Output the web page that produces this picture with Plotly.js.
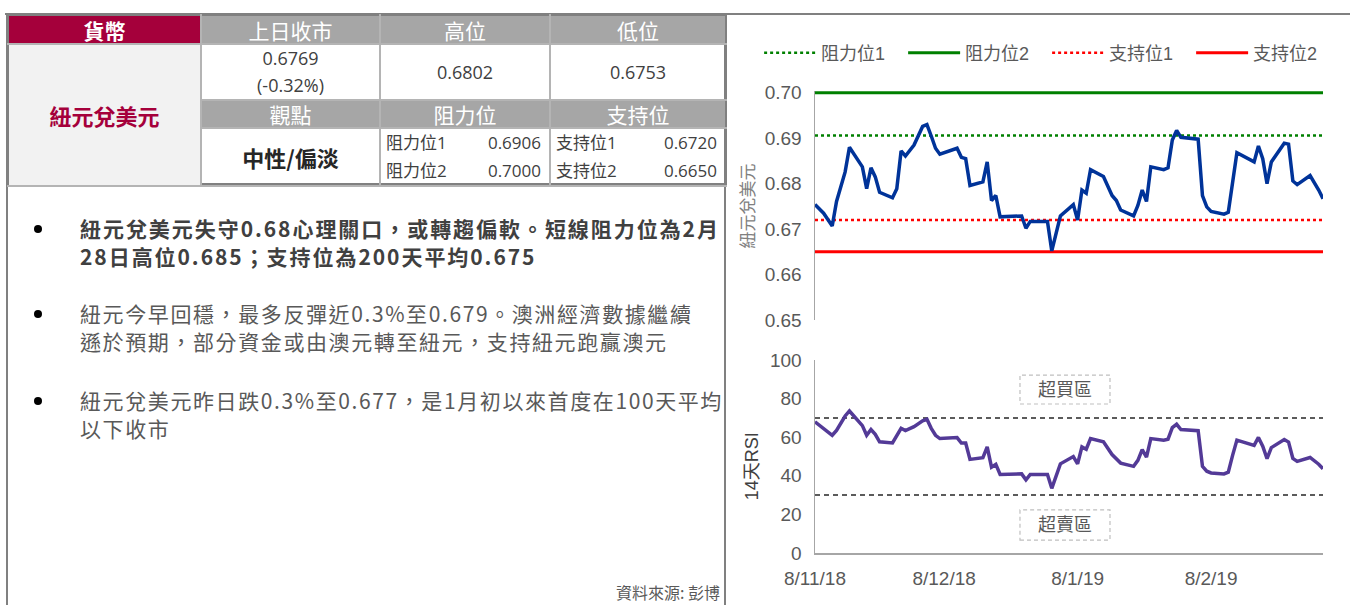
<!DOCTYPE html>
<html>
<head>
<meta charset="utf-8">
<script src="https://cdn.plot.ly/plotly-3.0.1.min.js"></script>
<style>
  html, body { margin:0; padding:0; background:#fff; }
  body { width:1350px; height:605px; position:relative; overflow:hidden; font-family:"Open Sans","Noto Sans CJK TC",sans-serif; }
  .hl { position:absolute; background:#808080; }
  table.info { position:absolute; left:7px; top:14px; width:718px; border-collapse:collapse; table-layout:fixed; }
  table.info td { border:2px solid #b4b4b4; padding:0; text-align:center; vertical-align:middle; color:#404040; font-size:18px; line-height:27px; white-space:nowrap; }
  table.info tr:first-child td { border-top:2px solid #808080; }
  table.info td.first { border-left:2px solid #808080; }
  table.info td.last { border-right:2px solid #808080; }
  td.hdr { background:#a6a6a6; color:#fff !important; font-size:21px !important; line-height:26px !important; font-family:"Noto Sans CJK TC",sans-serif; }
  td.hdr1 { background:#a5003b; color:#fff !important; font-size:21px !important; line-height:26px !important; font-weight:bold; font-family:"Noto Sans CJK TC",sans-serif; }
  td.name { background:#f2f2f2; color:#a5003b !important; font-size:22px !important; font-weight:bold; font-family:"Noto Sans CJK TC",sans-serif; }
  td.view { font-size:22px !important; font-weight:bold; color:#262626 !important; font-family:"Noto Sans CJK TC",sans-serif; }
  .pair { display:flex; justify-content:space-between; padding:0 8px 0 5px; line-height:28px; font-size:17px; }
  .bul { position:absolute; left:0; width:720px; }
  .bul .dot { position:absolute; left:34px; top:11px; width:8px; height:8px; border-radius:50%; background:#000; }
  .bul .txt { position:absolute; left:80px; width:660px; font-size:21px; letter-spacing:1.6px; line-height:28px; color:#595959; font-family:"Noto Sans CJK TC",sans-serif; white-space:nowrap; }
  .bul .txt.b { font-weight:bold; color:#404040; letter-spacing:1.95px; }
  #src { position:absolute; left:540px; width:180px; top:582px; line-height:20px; text-align:right; font-size:16px; color:#595959; font-family:"Noto Sans CJK TC",sans-serif; }
  #chart { position:absolute; left:727px; top:0; width:623px; height:605px; }
</style>
</head>
<body>
<div class="hl" style="left:5px; top:13px; width:1345px; height:2px;"></div>
<div class="hl" style="left:6px; top:14px; width:2px; height:591px;"></div>
<div class="hl" style="left:724px; top:14px; width:2px; height:591px;"></div>
<div class="hl" style="left:6px; top:183px; width:720px; height:2px;"></div>

<table class="info" id="tbl"></table>

<div id="bullets"></div>
<div id="src"></div>
<div id="chart"></div>

<script>
// ---- table / text content ----
var tableHeaders1 = ["貨幣", "上日收市", "高位", "低位"];
var currencyName = "紐元兌美元";
var prevClose = "0.6769";
var prevChange = "(-0.32%)";
var dayHigh = "0.6802";
var dayLow = "0.6753";
var tableHeaders2 = ["觀點", "阻力位", "支持位"];
var viewText = "中性/偏淡";
var resistLabels = ["阻力位1", "阻力位2"];
var resistValues = ["0.6906", "0.7000"];
var supportLabels = ["支持位1", "支持位2"];
var supportValues = ["0.6720", "0.6650"];
var bulletLines = [
  ["紐元兌美元失守0.68心理關口，或轉趨偏軟。短線阻力位為2月", "28日高位0.685；支持位為200天平均0.675"],
  ["紐元今早回穩，最多反彈近0.3%至0.679。澳洲經濟數據繼續", "遜於預期，部分資金或由澳元轉至紐元，支持紐元跑贏澳元"],
  ["紐元兌美元昨日跌0.3%至0.677，是1月初以來首度在100天平均", "以下收市"]
];
var bulletBold = [true, false, false];
var sourceText = "資料來源: 彭博";

// ---- chart data ----
var dates = ['2018-11-08','2018-11-10','2018-11-12','2018-11-13','2018-11-15','2018-11-16','2018-11-19','2018-11-20','2018-11-21','2018-11-22',
  '2018-11-23','2018-11-26','2018-11-27','2018-11-28','2018-11-29','2018-12-01','2018-12-03','2018-12-04','2018-12-05','2018-12-06',
  '2018-12-07','2018-12-11','2018-12-12','2018-12-13','2018-12-14','2018-12-17','2018-12-18','2018-12-19','2018-12-20','2018-12-21',
  '2018-12-26','2018-12-27','2018-12-28','2019-01-01','2019-01-02','2019-01-04','2019-01-07','2019-01-08','2019-01-09','2019-01-10',
  '2019-01-11','2019-01-14','2019-01-16','2019-01-17','2019-01-18','2019-01-21','2019-01-22','2019-01-23','2019-01-24','2019-01-25',
  '2019-01-28','2019-01-29','2019-01-30','2019-01-31','2019-02-01','2019-02-05','2019-02-06','2019-02-07','2019-02-08','2019-02-11',
  '2019-02-12','2019-02-13','2019-02-14','2019-02-18','2019-02-19','2019-02-20','2019-02-21','2019-02-22','2019-02-25','2019-02-26',
  '2019-02-27','2019-02-28','2019-03-03','2019-03-05','2019-03-06'];
var nzdusd = [0.6754,0.6735,0.6707,0.6761,0.6826,0.6880,0.6837,0.6789,0.6835,0.6815,
  0.6781,0.6769,0.6789,0.6872,0.6861,0.6885,0.6926,0.6930,0.6905,0.6878,
  0.6865,0.6878,0.6858,0.6855,0.6796,0.6804,0.6848,0.6763,0.6774,0.6727,
  0.6729,0.6702,0.6717,0.6717,0.6652,0.6729,0.6754,0.6720,0.6786,0.6779,
  0.6831,0.6816,0.6774,0.6763,0.6742,0.6729,0.6752,0.6786,0.6761,0.6837,
  0.6831,0.6835,0.6896,0.6917,0.6902,0.6898,0.6774,0.6749,0.6739,0.6733,
  0.6737,0.6804,0.6868,0.6848,0.6883,0.6855,0.6800,0.6848,0.6889,0.6887,
  0.6806,0.6798,0.6818,0.6786,0.6767];
var rsi14 = [68,64.6,61,63.5,71,73.6,66,61,64,61.5,
  57.6,57,60.5,64.6,63.4,65.5,68.5,69.3,64.6,61,
  59.3,59.8,57,57,48.5,49.4,55,44.5,45.9,40.7,
  41,37.9,40.7,40.7,33.5,46.2,50,46.2,55,53.8,
  59.3,57.6,51,48.9,46.6,44.9,48,53.6,49.7,59.3,
  58.5,59,65,66.7,64,63.4,44.9,42.4,41.5,41,
  41.9,50.6,58.5,55.8,59.9,55.3,48.9,54.6,58.8,57.5,
  49,47.5,49.5,46,43.6];
var levelNames = ["阻力位1", "阻力位2", "支持位1", "支持位2"];
var levelValues = [0.6906, 0.7000, 0.6720, 0.6650];
var rsiBands = [70, 30];
var rsiBandLabels = ["超買區", "超賣區"];
var xTickVals = ['2018-11-08','2018-12-08','2019-01-08','2019-02-08'];
var xTickText = ['8/11/18','8/12/18','8/1/19','8/2/19'];

// ---- build table ----
(function(){
  var h = '<colgroup><col style="width:193px"><col style="width:179px"><col style="width:170px"><col style="width:176px"></colgroup>';
  h += '<tr style="height:29px"><td class="hdr1 first">'+tableHeaders1[0]+'</td><td class="hdr">'+tableHeaders1[1]+'</td><td class="hdr">'+tableHeaders1[2]+'</td><td class="hdr last">'+tableHeaders1[3]+'</td></tr>';
  h += '<tr style="height:56px"><td class="name first" rowspan="3">'+currencyName+'</td><td>'+prevClose+'<br>'+prevChange+'</td><td>'+dayHigh+'</td><td class="last">'+dayLow+'</td></tr>';
  h += '<tr style="height:28px"><td class="hdr">'+tableHeaders2[0]+'</td><td class="hdr">'+tableHeaders2[1]+'</td><td class="hdr last">'+tableHeaders2[2]+'</td></tr>';
  var r = '', s = '';
  for (var i=0;i<2;i++){
    r += '<div class="pair"><span>'+resistLabels[i]+'</span><span>'+resistValues[i]+'</span></div>';
    s += '<div class="pair"><span>'+supportLabels[i]+'</span><span>'+supportValues[i]+'</span></div>';
  }
  h += '<tr style="height:57px"><td class="view">'+viewText+'</td><td>'+r+'</td><td class="last">'+s+'</td></tr>';
  document.getElementById('tbl').innerHTML = h;
  var tops = [214, 299, 386];
  var b = '';
  for (var j=0;j<bulletLines.length;j++){
    b += '<div class="bul" style="top:'+tops[j]+'px"><span class="dot"></span><div class="txt'+(bulletBold[j]?' b':'')+'">'+bulletLines[j].join('<br>')+'</div></div>';
  }
  document.getElementById('bullets').innerHTML = b;
  document.getElementById('src').textContent = sourceText;
})();

// ---- chart ----
var FONT = '"Liberation Sans", Arial, "Noto Sans CJK TC", sans-serif';
var xs = [dates[0], dates[dates.length-1]];
var levelStyles = [
  {color:'#008000', dash:'dot', width:2.5},
  {color:'#008000', dash:'solid', width:3},
  {color:'#ff0000', dash:'dot', width:2.5},
  {color:'#ff0000', dash:'solid', width:3}
];
var traces = [];
for (var k=0;k<levelValues.length;k++){
  traces.push({x:xs, y:[levelValues[k], levelValues[k]], type:'scatter', mode:'lines', name:levelNames[k],
    line:levelStyles[k], xaxis:'x', yaxis:'y', hoverinfo:'skip'});
}
traces.push({x:dates, y:nzdusd, type:'scatter', mode:'lines', name:'紐元兌美元', showlegend:false,
  line:{color:'#003399', width:3.5}, xaxis:'x', yaxis:'y'});
for (var m=0;m<rsiBands.length;m++){
  traces.push({x:xs, y:[rsiBands[m], rsiBands[m]], type:'scatter', mode:'lines', showlegend:false,
    line:{color:'#262626', dash:'5px,4px', width:1.5}, xaxis:'x', yaxis:'y2', hoverinfo:'skip'});
}
traces.push({x:dates, y:rsi14, type:'scatter', mode:'lines', name:'14天RSI', showlegend:false,
  line:{color:'#533a97', width:3.5}, xaxis:'x', yaxis:'y2'});

var boxX0 = 0.4035, boxX1 = 0.5807;
var layout = {
  width:623, height:605,
  margin:{l:88, r:27, t:91, b:52},
  paper_bgcolor:'rgba(0,0,0,0)', plot_bgcolor:'rgba(0,0,0,0)',
  font:{family:FONT, size:19, color:'#595959'},
  showlegend:true,
  legend:{orientation:'h', x:-0.11, xanchor:'left', y:1.0823, yanchor:'middle',
    font:{family:FONT, size:18, color:'#595959'}, itemwidth:52, entrywidth:77, tracegroupgap:0,
    bgcolor:'rgba(0,0,0,0)'},
  xaxis:{type:'date', range:[dates[0], dates[dates.length-1]], anchor:'y2',
    tickvals:xTickVals, ticktext:xTickText, ticks:'', showgrid:false, zeroline:false,
    showline:true, linecolor:'#a6a6a6', linewidth:1.5, ticklabelstandoff:8,
    tickfont:{family:FONT, size:19, color:'#595959'}},
  yaxis:{domain:[0.5043, 1], range:[0.65, 0.7004], tickvals:[0.65,0.66,0.67,0.68,0.69,0.70], tickformat:'.2f', anchor:'x',
    showgrid:false, zeroline:false, showline:true, linecolor:'#a6a6a6', linewidth:1.5, ticks:'',
    ticklabelstandoff:8, tickfont:{family:FONT, size:19, color:'#595959'}},
  yaxis2:{domain:[0, 0.4177], range:[0, 100], dtick:20, anchor:'x',
    showgrid:false, zeroline:false, showline:true, linecolor:'#a6a6a6', linewidth:1.5, ticks:'',
    ticklabelstandoff:8, tickfont:{family:FONT, size:19, color:'#595959'}},
  annotations:[
    {text:'紐元兌美元', textangle:-90, xref:'paper', x:-0.13, xanchor:'center', yref:'y domain', y:0.5, yanchor:'middle',
      showarrow:false, font:{family:FONT, size:17, color:'#808080'}},
    {text:'14天RSI', textangle:-90, xref:'paper', x:-0.124, xanchor:'center', yref:'y2 domain', y:0.45, yanchor:'middle',
      showarrow:false, font:{family:FONT, size:18, color:'#404040'}},
    {text:rsiBandLabels[0], xref:'paper', x:(boxX0+boxX1)/2, yref:'y2', y:84.7, showarrow:false,
      font:{family:FONT, size:18, color:'#595959'}},
    {text:rsiBandLabels[1], xref:'paper', x:(boxX0+boxX1)/2, yref:'y2', y:14.5, showarrow:false,
      font:{family:FONT, size:18, color:'#595959'}}
  ],
  shapes:[
    {type:'rect', xref:'paper', x0:boxX0, x1:boxX1, yref:'y2', y0:77.2, y1:92.2,
      line:{color:'#bfbfbf', width:1.2, dash:'4px,3px'}, fillcolor:'rgba(0,0,0,0)'},
    {type:'rect', xref:'paper', x0:boxX0, x1:boxX1, yref:'y2', y0:6.7, y1:22.3,
      line:{color:'#bfbfbf', width:1.2, dash:'4px,3px'}, fillcolor:'rgba(0,0,0,0)'}
  ]
};
Plotly.newPlot('chart', traces, layout, {displayModeBar:false, staticPlot:true});
</script>
</body>
</html>
